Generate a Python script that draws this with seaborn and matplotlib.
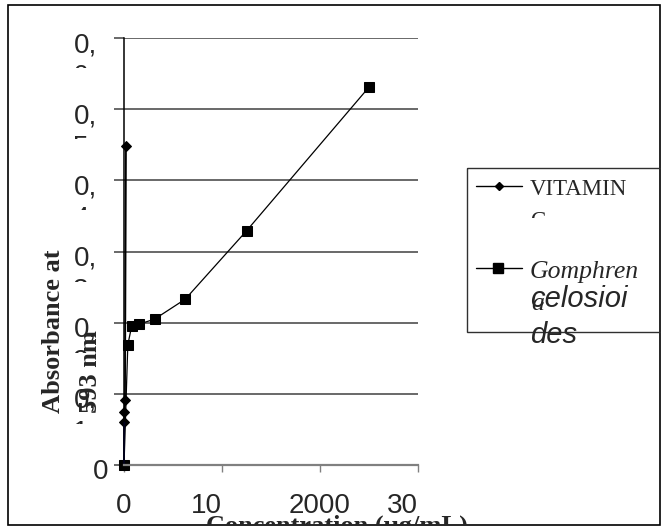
import matplotlib
matplotlib.use('Agg')
import matplotlib.pyplot as plt
import seaborn as sns
from matplotlib.patches import Rectangle
from matplotlib.lines import Line2D
from matplotlib.transforms import Bbox, IdentityTransform

# Vitamin C standard
vc_conc = [0, 2.5, 5, 10, 20]
vc_abs = [0, 0.060, 0.074, 0.091, 0.448]

# Gomphrena celosioides extract
gc_conc = [0, 39.06, 78.13, 156.25, 312.5, 625, 1250, 2500]
gc_abs = [0, 0.169, 0.195, 0.198, 0.205, 0.233, 0.329, 0.531]

y_ticks = [0, 0.1, 0.2, 0.3, 0.4, 0.5, 0.6]
y_tick_labels = ['0', '0,1', '0,2', '0,3', '0,4', '0,5', '0,6']
x_ticks = [0, 1000, 2000, 3000]
x_tick_labels = ['0', '10', '2000', '30']

W, H = 661, 531


def pix_box(x0, y0, x1, y1):
    # screen pixels (origin top-left) -> display bbox (origin bottom-left)
    return Bbox.from_extents(x0, H - y1, x1, H - y0)


def main():
    sns.set_theme(style='white')
    plt.rcParams['font.family'] = ['Liberation Sans', 'DejaVu Sans']

    fig = plt.figure(figsize=(W / 100, H / 100), dpi=100)
    fig.patch.set_facecolor('white')

    # overlay in pixel coordinates for frame, legend and loose texts
    ov = fig.add_axes([0, 0, 1, 1])
    ov.set_xlim(0, W)
    ov.set_ylim(H, 0)
    ov.axis('off')
    ov.add_patch(Rectangle((8, 5), 652, 520, fill=False, ec='black', lw=1.2))

    ax = fig.add_axes([124 / W, (H - 465) / H, 294 / W, 427 / H])
    ax.set_facecolor('none')

    sns.lineplot(x=gc_conc, y=gc_abs, ax=ax, color='black', lw=0.9,
                 marker='s', markersize=6.5, markeredgecolor='black',
                 estimator=None, sort=False, clip_on=False)
    sns.lineplot(x=vc_conc, y=vc_abs, ax=ax, color='black', lw=1.3,
                 marker='D', markersize=5.5, markeredgecolor='black',
                 estimator=None, sort=False, clip_on=False)
    sns.lineplot(x=vc_conc[:2], y=vc_abs[:2], ax=ax, color='navy', lw=1.2,
                 estimator=None, sort=False, clip_on=False)

    ax.set_xlim(0, 3000)
    ax.set_ylim(0, 0.6)
    ax.set_xticks(x_ticks)
    ax.set_xticklabels(x_tick_labels, fontsize=20, family='Liberation Sans')
    for lbl in ax.get_xticklabels()[1:]:
        if lbl.get_text() != '2000':
            lbl.set_ha('right')
    ax.set_yticks(y_ticks)
    ax.set_yticklabels([])
    ax.tick_params(axis='x', bottom=True, direction='out', length=5, width=1,
                   color='#808080', pad=15.5)
    ax.tick_params(axis='y', left=True, direction='out', length=7, width=1.1,
                   color='#404040')
    ax.yaxis.grid(True, color='#404040', lw=1.1)
    ax.xaxis.grid(False)
    for s in ['top', 'right']:
        ax.spines[s].set_visible(False)
    ax.spines['left'].set_color('black')
    ax.spines['left'].set_linewidth(1.1)
    ax.spines['bottom'].set_color('#808080')
    ax.spines['bottom'].set_linewidth(1.6)
    ax.set_xlabel('')
    ax.set_ylabel('')
    if ax.get_legend():
        ax.get_legend().remove()

    # y tick labels: wrapped after the comma, second line mostly cut off
    for v, lab in zip(y_ticks, y_tick_labels):
        px, py = ax.transData.transform((0, v))
        head, sep, tail = lab.partition(',')
        if not sep:
            fig.text(px - 16, py + 6, head, transform=IdentityTransform(),
                     ha='right', va='top', fontsize=20, family='Liberation Sans')
            continue
        fig.text(px - 27, py + 6, head + sep, transform=IdentityTransform(),
                 ha='right', va='top', fontsize=20, family='Liberation Sans')
        t = fig.text(px - 51, py - 26, tail, transform=IdentityTransform(),
                     ha='left', va='top', fontsize=20,
                     family='Liberation Sans', clip_on=True)
        t.set_clip_box(Bbox.from_extents(0, py - 30, px, py - 15))

    # axis titles
    ov.text(60, 413, 'Absorbance at', rotation=90, rotation_mode='anchor',
            ha='left', va='baseline', fontsize=19, fontweight='bold',
            family='Liberation Serif')
    ov.text(97, 413, '593 nm', rotation=90, rotation_mode='anchor',
            ha='left', va='baseline', fontsize=19, fontweight='bold',
            family='Liberation Serif')
    xl = ov.text(206, 515, 'Concentration (µg/mL)', ha='left', va='top',
                 fontsize=19, fontweight='bold', family='Liberation Serif',
                 clip_on=True)
    xl.set_clip_box(pix_box(8, 5, 660, 525))

    # legend
    ov.add_patch(Rectangle((467, 168), 260, 164, fill=False, ec='#303030', lw=1))
    ov.add_line(Line2D([476, 499, 522], [186, 186, 186], color='black', lw=1,
                       marker='D', markersize=4, markevery=[1]))
    ov.add_line(Line2D([476, 498, 522], [268, 268, 268], color='black', lw=1,
                       marker='s', markersize=6.5, markevery=[1]))
    ov.text(530, 195, 'VITAMIN', va='baseline', fontsize=16.5,
            family='Liberation Serif')
    c = ov.text(530, 227, 'C', va='baseline', fontsize=16.5,
                family='Liberation Serif', clip_on=True)
    c.set_clip_box(pix_box(520, 200, 660, 218))
    ov.text(530, 278, 'Gomphren', va='baseline', fontsize=18.5,
            style='italic', family='Liberation Serif')
    ov.text(531, 310, 'a', va='baseline', fontsize=18.5, style='italic',
            family='Liberation Serif')
    ov.text(530, 307, 'celosioi', va='baseline', fontsize=21, style='italic',
            family='Liberation Sans')
    ov.text(530, 343, 'des', va='baseline', fontsize=21, style='italic',
            family='Liberation Sans')

    fig.savefig('out.png', dpi=100)
    plt.close(fig)


if __name__ == '__main__':
    main()
